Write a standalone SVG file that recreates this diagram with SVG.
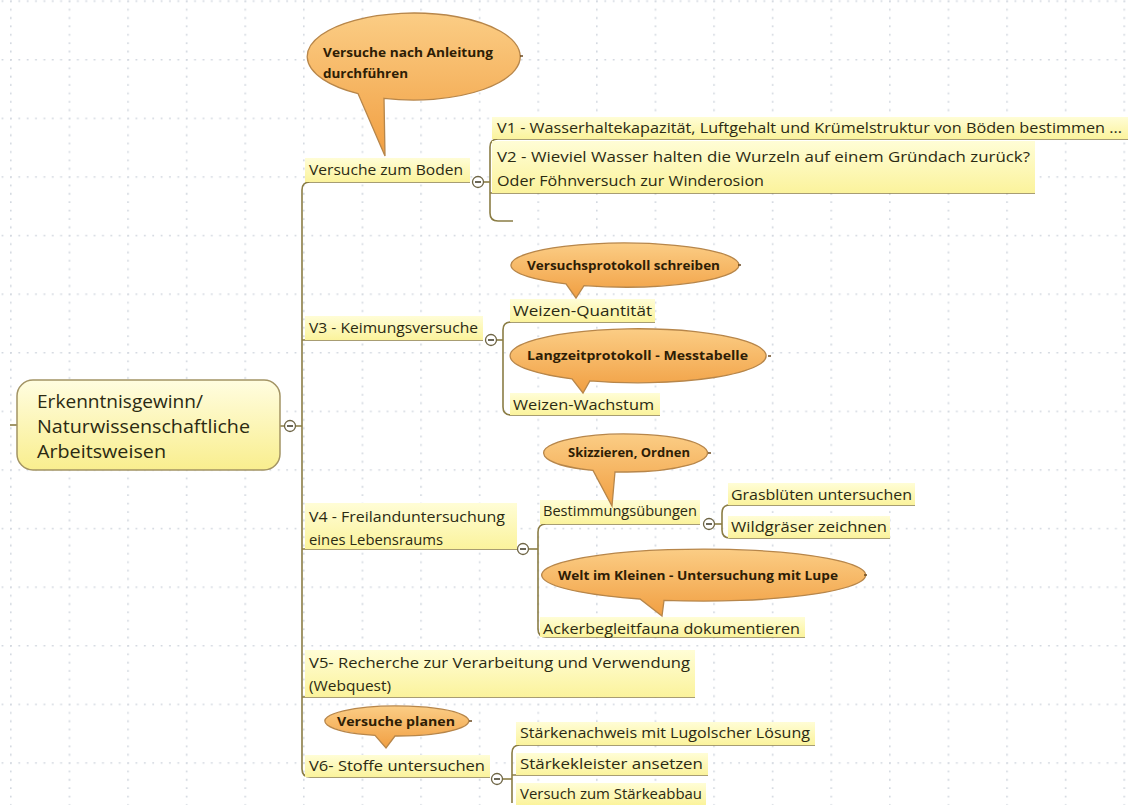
<svg xmlns="http://www.w3.org/2000/svg" width="1128" height="805" viewBox="0 0 1128 805">
<defs>
<pattern id="grid" patternUnits="userSpaceOnUse" x="10" y="0.4" width="58.6" height="58.6">
<line x1="0.8" y1="0" x2="0.8" y2="58.6" stroke="#d2d7df" stroke-width="1.6" stroke-dasharray="1.8 6.57"/>
<line x1="0" y1="0.8" x2="58.6" y2="0.8" stroke="#d2d7df" stroke-width="1.6" stroke-dasharray="1.8 6.57"/>
</pattern>
<linearGradient id="hl" x1="0" y1="0" x2="0" y2="1">
<stop offset="0" stop-color="#fffdd6"/>
<stop offset="1" stop-color="#fbf39c"/>
</linearGradient>
<linearGradient id="rootg" x1="0" y1="0" x2="0" y2="1">
<stop offset="0" stop-color="#fffde0"/>
<stop offset="1" stop-color="#f9ee8e"/>
</linearGradient>
<linearGradient id="og" x1="0" y1="0" x2="0" y2="1">
<stop offset="0" stop-color="#fbcd85"/>
<stop offset="1" stop-color="#f19f42"/>
</linearGradient>
</defs>
<style>
.hl{fill:url(#hl);}
.t{font-family:"Open Sans","Liberation Sans",sans-serif;font-size:14px;fill:#2b2a12;}
.rt{font-family:"Open Sans","Liberation Sans",sans-serif;font-size:18px;fill:#2b2a12;}
.ct{font-family:"Open Sans","Liberation Sans",sans-serif;font-size:13px;font-weight:bold;fill:#2e1d05;}
.co{fill:url(#og);stroke:#b7864a;stroke-width:1.3;}
.stub{stroke:#6b4a20;stroke-width:1.5;}
.ln{fill:none;stroke:#8b7d45;stroke-width:1.6;}
.cc{fill:#ffffff;stroke:#6e6545;stroke-width:1.3;}
.cm{stroke:#3a3520;stroke-width:1.5;}
</style>
<rect width="1128" height="805" fill="#ffffff"/>
<rect width="1128" height="805" fill="url(#grid)"/>

<g id="connectors">
<path class="ln" d="M10,425 H17"/>
<path class="ln" d="M280,426 H284.5 M295.5,426 H302"/>
<path class="ln" d="M470,182 H310 Q302,182 302,190 V769 Q302,777 310,777 H490"/>
<path class="ln" d="M302,340 H483"/>
<path class="ln" d="M302,549 H517"/>
<path class="ln" d="M302,697 H695"/>
<path class="ln" d="M483.5,182 H490"/>
<path class="ln" d="M1128,139 H498 Q490,139 490,147 V213 Q490,221 498,221 H513"/>
<path class="ln" d="M490,193 H1035"/>
<path class="ln" d="M496.5,340 H503"/>
<path class="ln" d="M655,322 H511 Q503,322 503,330 V407 Q503,415 511,415 H660"/>
<path class="ln" d="M528.5,549 H538"/>
<path class="ln" d="M700,524 H546 Q538,524 538,532 V629 Q538,637 546,637 H805"/>
<path class="ln" d="M714.5,524 H722"/>
<path class="ln" d="M915,505 H730 Q722,505 722,513 V530 Q722,538 730,538 H890"/>
<path class="ln" d="M502.5,779 H512"/>
<path class="ln" d="M815,745 H520 Q512,745 512,753 V803"/>
<path class="ln" d="M512,775 H708"/>
<g id="collapse">
<circle class="cc" cx="290" cy="426" r="5.5"/><path class="cm" d="M287,426 H293"/>
<circle class="cc" cx="478" cy="182" r="5.5"/><path class="cm" d="M475,182 H481"/>
<circle class="cc" cx="491" cy="340" r="5.5"/><path class="cm" d="M488,340 H494"/>
<circle class="cc" cx="523" cy="549" r="5.5"/><path class="cm" d="M520,549 H526"/>
<circle class="cc" cx="709" cy="524" r="5.5"/><path class="cm" d="M706,524 H712"/>
<circle class="cc" cx="497" cy="779" r="5.5"/><path class="cm" d="M494,779 H500"/>
</g>
</g>

<g id="root">
<rect x="17" y="380" width="263" height="90" rx="16" fill="url(#rootg)" stroke="#a39464" stroke-width="1.5"/>
<text class="rt" x="37" y="408" textLength="166" lengthAdjust="spacingAndGlyphs">Erkenntnisgewinn/</text>
<text class="rt" x="37" y="433" textLength="213" lengthAdjust="spacingAndGlyphs">Naturwissenschaftliche</text>
<text class="rt" x="37" y="458" textLength="129" lengthAdjust="spacingAndGlyphs">Arbeitsweisen</text>
</g>

<g id="n-boden">
<rect class="hl" x="305" y="158" width="165" height="24"/>
<text class="t" x="309" y="175" textLength="154" lengthAdjust="spacingAndGlyphs">Versuche zum Boden</text>
</g>
<g id="n-v1">
<rect class="hl" x="492" y="117" width="636" height="22"/>
<text class="t" x="497" y="133" textLength="625" lengthAdjust="spacingAndGlyphs">V1 - Wasserhaltekapazität, Luftgehalt und Krümelstruktur von Böden bestimmen ...</text>
</g>
<g id="n-v2">
<rect class="hl" x="492" y="141" width="543" height="52"/>
<text class="t" x="497" y="162" textLength="533" lengthAdjust="spacingAndGlyphs">V2 - Wieviel Wasser halten die Wurzeln auf einem Gründach zurück?</text>
<text class="t" x="497" y="186" textLength="267" lengthAdjust="spacingAndGlyphs">Oder Föhnversuch zur Winderosion</text>
</g>
<g id="n-v3">
<rect class="hl" x="305" y="316" width="178" height="24"/>
<text class="t" x="309" y="333" textLength="169" lengthAdjust="spacingAndGlyphs">V3 - Keimungsversuche</text>
</g>
<g id="n-wq">
<rect class="hl" x="510" y="299" width="145" height="23"/>
<text class="t" x="513" y="316" textLength="139" lengthAdjust="spacingAndGlyphs">Weizen-Quantität</text>
</g>
<g id="n-ww">
<rect class="hl" x="510" y="393" width="150" height="22"/>
<text class="t" x="513" y="410" textLength="141" lengthAdjust="spacingAndGlyphs">Weizen-Wachstum</text>
</g>
<g id="n-v4">
<rect class="hl" x="305" y="503" width="212" height="46"/>
<text class="t" x="309" y="522" textLength="196" lengthAdjust="spacingAndGlyphs">V4 - Freilanduntersuchung</text>
<text class="t" x="309" y="545" textLength="134" lengthAdjust="spacingAndGlyphs">eines Lebensraums</text>
</g>
<g id="n-best">
<rect class="hl" x="540" y="500" width="160" height="24"/>
<text class="t" x="543" y="516" textLength="154" lengthAdjust="spacingAndGlyphs">Bestimmungsübungen</text>
</g>
<g id="n-gras">
<rect class="hl" x="728" y="483" width="187" height="22"/>
<text class="t" x="731" y="500" textLength="181" lengthAdjust="spacingAndGlyphs">Grasblüten untersuchen</text>
</g>
<g id="n-wild">
<rect class="hl" x="728" y="516" width="162" height="22"/>
<text class="t" x="731" y="532" textLength="156" lengthAdjust="spacingAndGlyphs">Wildgräser zeichnen</text>
</g>
<g id="n-acker">
<rect class="hl" x="540" y="617" width="265" height="20"/>
<text class="t" x="543" y="634" textLength="257" lengthAdjust="spacingAndGlyphs">Ackerbegleitfauna dokumentieren</text>
</g>
<g id="n-v5">
<rect class="hl" x="305" y="650" width="390" height="47"/>
<text class="t" x="309" y="668" textLength="381" lengthAdjust="spacingAndGlyphs">V5- Recherche zur Verarbeitung und Verwendung</text>
<text class="t" x="309" y="691" textLength="82" lengthAdjust="spacingAndGlyphs">(Webquest)</text>
</g>
<g id="n-v6">
<rect class="hl" x="305" y="755" width="185" height="22"/>
<text class="t" x="309" y="771" textLength="176" lengthAdjust="spacingAndGlyphs">V6- Stoffe untersuchen</text>
</g>
<g id="n-s1">
<rect class="hl" x="516" y="722" width="299" height="23"/>
<text class="t" x="520" y="738" textLength="290" lengthAdjust="spacingAndGlyphs">Stärkenachweis mit Lugolscher Lösung</text>
</g>
<g id="n-s2">
<rect class="hl" x="516" y="753" width="192" height="22"/>
<text class="t" x="520" y="769" textLength="183" lengthAdjust="spacingAndGlyphs">Stärkekleister ansetzen</text>
</g>
<g id="n-s3">
<rect class="hl" x="516" y="783" width="190" height="22"/>
<text class="t" x="520" y="799" textLength="182" lengthAdjust="spacingAndGlyphs">Versuch zum Stärkeabbau</text>
</g>

<g id="c-anleitung">
<path class="co" d="M384,98.3 A106.5,43.5 0 1 0 358,93.6 L385,156 Z"/>
<path class="stub" d="M520,56 H523"/>
<text class="ct" x="323" y="57" textLength="170" lengthAdjust="spacingAndGlyphs">Versuche nach Anleitung</text>
<text class="ct" x="323" y="78" textLength="85" lengthAdjust="spacingAndGlyphs">durchführen</text>
</g>
<g id="c-protokoll">
<path class="co" d="M584,285.6 A114,22 0 1 0 566,283.9 L576,298 Z"/>
<path class="stub" d="M738,265 H741"/>
<text class="ct" x="527" y="270" textLength="193" lengthAdjust="spacingAndGlyphs">Versuchsprotokoll schreiben</text>
</g>
<g id="c-langzeit">
<path class="co" d="M590,380.8 A128,27 0 1 0 572,378.9 L583,393 Z"/>
<path class="stub" d="M768,356 H771"/>
<text class="ct" x="527" y="360" textLength="221" lengthAdjust="spacingAndGlyphs">Langzeitprotokoll - Messtabelle</text>
</g>
<g id="c-skizzieren">
<path class="co" d="M615,471.8 A82,19 0 1 0 593,470.4 L612,506 Z"/>
<path class="stub" d="M708,453 H711"/>
<text class="ct" x="568" y="457" textLength="122" lengthAdjust="spacingAndGlyphs">Skizzieren, Ordnen</text>
</g>
<g id="c-welt">
<path class="co" d="M664,600.3 A162,26 0 1 0 640,599 L662,616 Z"/>
<path class="stub" d="M864,575 H867"/>
<text class="ct" x="558" y="580" textLength="280" lengthAdjust="spacingAndGlyphs">Welt im Kleinen - Untersuchung mit Lupe</text>
</g>
<g id="c-planen">
<path class="co" d="M395,736 A72,15 0 1 0 375,735.3 L386,748 Z"/>
<path class="stub" d="M469,721 H472"/>
<text class="ct" x="337" y="726" textLength="118" lengthAdjust="spacingAndGlyphs">Versuche planen</text>
</g>
</svg>
